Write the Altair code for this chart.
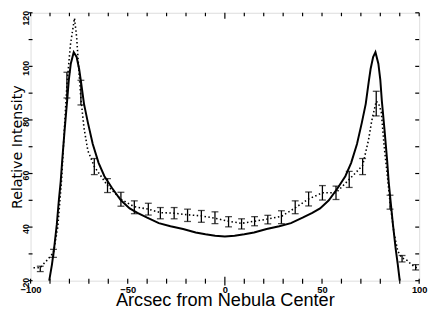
import altair as alt
import pandas as pd

# Model (solid) curve
model_x = [-90.4, -89.0, -87.9, -86.5, -85.4, -84.5, -83.7, -82.5, -81.2, -80.3, -79.3, -77.8,
           -76.3, -75.0, -74.0, -72.5, -70.5, -68.0, -65.0, -62.0, -58.0, -53.5, -49.0, -45.0,
           -40.0, -34.0, -28.0, -21.5, -15.0, -10.0, -5.0, 0.0, 5.0, 10.0, 15.0, 21.5, 28.0,
           34.0, 40.0, 45.0, 49.0, 53.5, 58.0, 62.0, 65.0, 68.0, 70.5, 72.5, 74.0, 75.0, 76.3,
           77.5, 79.0, 80.0, 80.8, 82.2, 83.5, 84.3, 85.2, 86.5, 87.9, 89.0, 90.0]
model_y = [20.0, 26.0, 32.0, 41.0, 50.4, 57.0, 65.0, 76.0, 87.0, 95.0, 101.0, 105.3,
           103.5, 99.0, 94.0, 86.0, 79.0, 71.0, 64.0, 59.0, 54.5, 50.0, 47.0, 45.3,
           43.5, 41.5, 40.3, 39.3, 38.0, 37.3, 36.8, 36.5, 36.8, 37.3, 38.0, 39.3, 40.3,
           41.5, 43.5, 45.3, 47.0, 50.0, 54.5, 59.0, 64.0, 71.0, 79.0, 86.0, 94.0, 99.0, 103.5,
           105.3, 101.0, 95.0, 87.0, 76.0, 65.0, 57.0, 50.4, 41.0, 32.0, 26.0, 20.0]

# Observed (dotted) profile
obs_x = [-98.5, -95.0, -92.9, -91.3, -88.2, -86.0, -84.0, -82.5, -81.3, -79.5, -77.4, -76.3,
         -75.2, -74.1, -72.5, -70.5, -67.2, -60.4, -53.5, -46.6, -39.4, -33.2, -26.1, -19.2,
         -12.1, -5.1, 1.9, 8.6, 15.3, 22.1, 29.1, 36.2, 43.1, 50.2, 57.2, 64.0, 70.9, 73.9,
         75.6, 77.9, 79.2, 80.5, 82.0, 83.8, 85.0, 87.0, 89.0, 91.2, 94.0, 96.0, 98.2, 99.5]
obs_y = [24.8, 24.8, 26.6, 27.8, 30.5, 40.0, 58.0, 78.0, 93.0, 108.0, 118.0, 111.0,
         99.0, 88.0, 77.0, 68.5, 62.6, 55.5, 50.4, 47.6, 46.7, 45.4, 45.2, 44.6,
         44.2, 43.3, 42.2, 41.4, 42.2, 43.0, 44.0, 47.2, 50.5, 52.8, 52.8, 57.8, 63.0, 72.4,
         79.7, 87.0, 86.0, 83.0, 70.0, 58.0, 49.3, 38.0, 31.0, 28.5, 27.5, 26.0, 25.0, 24.5]

# Error bars
err_x = [-95.0, -88.2, -81.3, -74.1, -67.2, -60.4, -53.5, -46.6, -39.4, -33.2, -26.1, -19.2,
         -12.1, -5.1, 1.9, 8.6, 15.3, 22.1, 29.1, 36.2, 43.1, 50.2, 57.2, 64.0, 70.9, 77.9,
         85.0, 91.2, 98.2]
err_y = [24.4, 30.2, 93.0, 90.2, 62.6, 55.5, 50.4, 47.4, 46.7, 45.2, 45.2, 44.4,
         44.0, 43.5, 42.0, 41.2, 42.2, 42.8, 43.7, 47.4, 50.5, 52.8, 52.8, 57.8, 62.6, 86.1,
         49.3, 28.2, 25.0]
err_e = [1.0, 1.5, 4.8, 4.6, 3.0, 2.6, 2.6, 2.4, 2.2, 2.1, 2.1, 2.3,
         2.2, 2.2, 1.9, 1.9, 1.7, 1.6, 2.4, 2.4, 2.6, 2.7, 2.5, 3.0, 3.0, 4.6,
         2.6, 1.2, 1.0]

x_ticks = [-100, -90, -80, -70, -60, -50, -40, -30, -20, -10, 10, 20, 30, 40, 50, 60, 70, 80, 90, 100]
x_long_ticks = [0]
y_ticks = list(range(20, 121, 10))
x_labels = [-100, -50, 0, 50, 100]
y_labels = [20, 40, 60, 80, 100, 120]

W, H = 396, 273
FONT = "Liberation Sans"

model = pd.DataFrame({"x": model_x, "y": model_y})
obs = pd.DataFrame({"x": obs_x, "y": obs_y})
err = pd.DataFrame({"x": err_x, "y": err_y, "e": err_e})
err["lo"] = err["y"] - err["e"]
err["hi"] = err["y"] + err["e"]
xt = pd.DataFrame({"t": x_ticks})
xlt = pd.DataFrame({"t": x_long_ticks})
yt = pd.DataFrame({"t": y_ticks})

xscale = alt.Scale(domain=[-100, 100], nice=False, zero=False)
yscale = alt.Scale(domain=[20, 120], nice=False, zero=False)

xaxis = alt.Axis(values=x_labels, ticks=False, tickSize=0, domain=False, grid=False,
                 labelFont=FONT, labelFontSize=9.5, labelFontWeight="bold", labelColor="black",
                 labelBaseline="alphabetic", labelPadding=12, labelFlush=False,
                 title="Arcsec from Nebula Center", titleFont=FONT, titleFontSize=18.5,
                 titleFontWeight="normal", titleColor="black", titleBaseline="alphabetic",
                 titleY=25.5, titleAlign="center")
yaxis = alt.Axis(values=y_labels, ticks=False, tickSize=0, domain=False, grid=False,
                 labelFont=FONT, labelFontSize=9, labelFontWeight="bold", labelColor="black",
                 labelAngle=270, labelAlign="center", labelBaseline="alphabetic",
                 labelPadding=2.5, labelFlush=False,
                 labelOffset={"condition": {"test": "datum.value == 120", "value": 5}, "value": 1.5},
                 title="Relative Intensity", titleFont="DejaVu Sans", titleFontSize=14.5,
                 titleFontWeight="normal", titleColor="black", titleAngle=270,
                 titleBaseline="alphabetic", titleX=-9.5, titleAlign="center")

solid = alt.Chart(model).mark_line(color="black", strokeWidth=2).encode(
    x=alt.X("x:Q", scale=xscale, axis=xaxis),
    y=alt.Y("y:Q", scale=yscale, axis=yaxis),
)
dotted = alt.Chart(obs).mark_line(color="black", strokeWidth=1.6, strokeDash=[1.5, 2.5]).encode(
    x=alt.X("x:Q", scale=xscale),
    y=alt.Y("y:Q", scale=yscale),
)
bars = alt.Chart(err).mark_rule(color="black", strokeWidth=1.3).encode(
    x=alt.X("x:Q", scale=xscale),
    y=alt.Y("lo:Q", scale=yscale),
    y2="hi:Q",
)
cap_lo = alt.Chart(err).mark_tick(color="black", orient="horizontal", size=7, thickness=1.3).encode(
    x=alt.X("x:Q", scale=xscale),
    y=alt.Y("lo:Q", scale=yscale),
)
cap_hi = alt.Chart(err).mark_tick(color="black", orient="horizontal", size=7, thickness=1.3).encode(
    x=alt.X("x:Q", scale=xscale),
    y=alt.Y("hi:Q", scale=yscale),
)

top_ticks = alt.Chart(xt).mark_rule(color="black", strokeWidth=1.2).encode(
    x=alt.X("t:Q", scale=xscale), y=alt.value(0), y2=alt.value(3.5),
)
top_long = alt.Chart(xlt).mark_rule(color="black", strokeWidth=1.2).encode(
    x=alt.X("t:Q", scale=xscale), y=alt.value(0), y2=alt.value(6),
)
bot_ticks = alt.Chart(xt).mark_rule(color="black", strokeWidth=1.2).encode(
    x=alt.X("t:Q", scale=xscale), y=alt.value(H - 2), y2=alt.value(H + 3),
)
bot_long = alt.Chart(xlt).mark_rule(color="black", strokeWidth=1.2).encode(
    x=alt.X("t:Q", scale=xscale), y=alt.value(H - 4), y2=alt.value(H + 5),
)
left_ticks = alt.Chart(yt).mark_rule(color="black", strokeWidth=1.2).encode(
    y=alt.Y("t:Q", scale=yscale), x=alt.value(-2), x2=alt.value(2),
)
right_ticks = alt.Chart(yt).mark_rule(color="black", strokeWidth=1.2).encode(
    y=alt.Y("t:Q", scale=yscale), x=alt.value(W - 4), x2=alt.value(W),
)

chart = alt.layer(
    solid, dotted, bars, cap_lo, cap_hi, top_ticks, top_long, bot_ticks, bot_long,
    left_ticks, right_ticks
).properties(
    width=W, height=H,
    autosize=alt.AutoSizeParams(type="none"),
    padding={"left": 23, "top": 2, "right": 9, "bottom": 27},
).configure_view(
    stroke="black", strokeWidth=1.6
).configure(background="white")

chart.save("out.html", embed_options={"renderer": "svg", "actions": False})
